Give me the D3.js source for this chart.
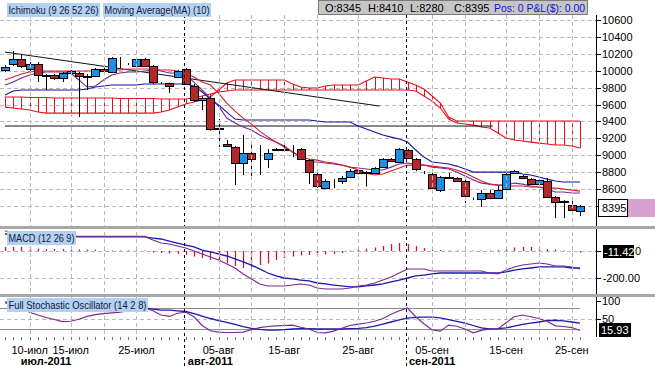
<!DOCTYPE html>
<html><head><meta charset="utf-8">
<script src="https://cdn.jsdelivr.net/npm/d3@7"></script>
<style>body{margin:0;background:#fff}svg{display:block;font-family:"Liberation Sans",Arial,sans-serif}</style>
</head><body><svg id="c" width="655" height="366"></svg>
<script>
// ---------------- DATA ----------------
const dates=["07-06","07-07","07-08","07-10","07-11","07-12","07-13","07-14","07-15","07-17","07-18","07-19","07-20","07-21","07-22","07-24","07-25","07-26","07-27","07-28","07-29","07-31","08-01","08-02","08-03","08-04","08-05","08-07","08-08","08-09","08-10","08-11","08-12","08-14","08-15","08-16","08-17","08-18","08-19","08-21","08-22","08-23","08-24","08-25","08-26","08-28","08-29","08-30","08-31","09-01","09-02","09-04","09-05","09-06","09-07","09-08","09-09","09-11","09-12","09-13","09-14","09-15","09-16","09-18","09-19","09-20","09-21","09-22","09-23","09-25","09-26"];
const open=[10008,10079,10138,10020,10079,9949,9949,9914,9973,9973,9937,9937,10020,9985,10095,10079,10056,10138,10056,9860,9854,9925,10020,9819,9653,9677,9322,9133,9097,8908,9026,8960,8955,9073,9062,9070,9073,8943,8778,8612,8695,8695,8742,8825,8801,8789,8860,8955,8920,9062,8955,8795,8778,8588,8742,8730,8695,8488,8482,8553,8494,8600,8789,8754,8718,8659,8695,8505,8458,8411,8345];
const high=[10067,10233,10198,10103,10103,9961,9961,9985,10008,9985,9961,10032,10032,10162,10162,10091,10150,10150,10067,9866,9860,10008,10032,9843,9690,9701,9428,9180,9109,9239,9168,9121,9073,9085,9144,9121,9085,8955,8790,8718,8718,8754,8837,8837,8813,8860,8967,8967,9085,9073,8967,8813,8800,8754,8790,8742,8707,8500,8588,8588,8636,8813,8825,8766,8730,8718,8730,8517,8470,8494,8410];
const low=[9985,10056,10032,9996,9866,9772,9890,9866,9961,9452,9772,9925,9985,9973,10032,10067,10044,10044,9843,9843,9736,9914,9831,9630,9535,9290,9097,9097,8647,8766,8730,8766,8849,9050,9038,8979,8943,8659,8612,8600,8612,8660,8730,8775,8630,8778,8849,8920,8908,8955,8813,8778,8600,8565,8718,8683,8434,8470,8387,8482,8482,8565,8778,8718,8647,8647,8494,8257,8257,8316,8280];
const close=[10044,10138,10056,10079,9949,9940,9914,9973,9996,9937,9930,10020,9996,10150,10088,10075,10138,10056,9866,9854,9819,9996,9843,9653,9677,9310,9316,9109,8908,9026,8955,8955,9026,9062,9070,9080,8955,8801,8636,8695,8700,8730,8813,8789,8795,8849,8955,8931,9073,8967,8837,8789,8612,8742,8730,8695,8517,8482,8553,8494,8588,8778,8813,8730,8659,8707,8505,8446,8452,8352,8395];

const kijun=[9712,9760,9772,9772,9772,9772,9772,9772,9772,9772,9783,9807,9819,9831,9831,9831,9831,9843,9843,9843,9843,9843,9843,9819,9748,9665,9594,9511,9428,9417,9417,9417,9417,9417,9417,9417,9417,9417,9405,9393,9393,9393,9393,9346,9310,9275,9239,9215,9192,9156,9062,8979,8920,8908,8896,8872,8837,8801,8801,8801,8801,8801,8801,8778,8766,8742,8718,8695,8683,8683,8683];
const tenkan=[9831,9866,9914,9949,9973,9985,9985,9985,9973,9890,9807,9819,9890,9949,9973,9985,9985,9996,10008,9996,9973,9973,9949,9866,9772,9677,9582,9440,9381,9334,9298,9239,9192,9156,9097,9038,8979,8920,8920,8908,8896,8884,8860,8849,8837,8825,8825,8860,8896,8908,8896,8884,8860,8849,8837,8801,8754,8707,8671,8659,8647,8647,8671,8659,8636,8624,8600,8565,8565,8553,8553];
const ma10=[9890,9925,9961,9985,9996,9996,9996,9996,9996,9996,9996,9996,9996,10008,10008,10020,10020,10020,10020,10008,10008,9996,9973,9925,9866,9831,9736,9618,9523,9440,9369,9286,9215,9156,9109,9038,8979,8955,8943,8920,8908,8884,8860,8825,8789,8766,8778,8813,8849,8884,8884,8884,8872,8860,8849,8825,8789,8742,8695,8659,8647,8636,8636,8636,8624,8624,8612,8612,8600,8588,8576];
const spanA=[9689,9689,9689,9683,9683,9683,9677,9677,9677,9677,9677,9677,9677,9677,9671,9671,9671,9671,9671,9665,9665,9665,9665,9677,9701,9724,9748,9760,9772,9772,9772,9772,9772,9772,9772,9772,9772,9772,9772,9772,9772,9772,9772,9772,9772,9772,9772,9772,9772,9772,9760,9701,9641,9559,9428,9381,9369,9357,9334,9322,9263,9204,9180,9168,9156,9144,9133,9121,9121,9109,9085];
const spanB=[9570,9559,9547,9535,9511,9499,9499,9499,9499,9499,9499,9499,9499,9499,9499,9499,9499,9499,9499,9511,9535,9570,9606,9630,9653,9689,9772,9854,9890,9890,9890,9890,9890,9890,9890,9843,9807,9795,9795,9819,9831,9831,9831,9831,9878,9925,9914,9902,9902,9866,9831,9783,9701,9618,9452,9405,9405,9405,9405,9405,9405,9405,9405,9405,9405,9405,9405,9405,9405,9405,9405];

const macd=[148,141,133,126,122,118,115,113,111,108,108,108,108,108,108,108,108,108,81,59,52,37,22,0,-22,-44,-67,-96,-126,-170,-207,-244,-259,-259,-259,-252,-244,-252,-274,-281,-281,-281,-274,-259,-252,-237,-215,-192,-163,-133,-133,-133,-148,-148,-148,-148,-148,-148,-148,-163,-170,-141,-118,-104,-96,-89,-96,-111,-111,-118,-133];
const signal=[126,126,118,118,111,111,111,111,111,104,104,104,104,104,104,104,104,104,96,89,74,59,44,30,7,-7,-22,-37,-59,-81,-104,-133,-163,-185,-200,-207,-215,-222,-237,-244,-252,-259,-266,-266,-259,-252,-244,-229,-215,-200,-185,-178,-170,-163,-163,-163,-163,-163,-163,-163,-163,-155,-141,-133,-126,-118,-118,-118,-118,-126,-126];
const hist=[30,30,30,30,18,15,15,15,11,11,11,11,4,4,4,4,4,4,-11,-15,-18,-22,-30,-41,-52,-67,-81,-92,-111,-126,-118,-104,-92,-67,-52,-41,-33,-30,-30,-26,-22,-15,4,11,18,26,37,52,59,52,37,22,11,7,4,4,4,4,4,4,7,15,26,30,30,26,15,11,4,-4,-11.42];

const stochK=[95,88,78,68,60,53,47,41,42,48,56,61,64,66,68,72,77,80,72,60,56,65,68,55,30,15,11,10,10,11,18,24,27,29,30,31,25,20,10,9,14,22,30,34,37,42,50,62,72,80,55,35,17,14,31,28,20,9,16,20,20,38,55,60,55,50,42,29,27,24,15.93];
const stochD=[97,96,94,91,88,85,82,79,77,75,74,74,75,76,77,78,79,80,77,74,74,72,70,64,57,50,44,39,33,27,22,19,17,17,18,20,21,21,20,20,20,20,21,22,24,28,34,40,46,51,53,54,54,52,47,42,37,30,23,20,21,23,28,33,37,40,44,45,43,40,37];

const trendDesc=[[0,10221],[45.6,9582]];
const trendFlat=[[0,9346],[59.4,9346]];

const priceGrid=[8400,8600,8800,9000,9200,9400,9600,9800,10000,10200,10400,10600];
const priceLabels=[8600,8800,9000,9200,9400,9600,9800,10000,10200,10400,10600];
const macdTicks=[0,-200];
const macdLabelVals=[-200];
const macdLabels=["-200.00"];
const stochTicks=[100,50];
const tickDates=["07-10","07-15","07-25","08-05","08-15","08-25","09-05","09-15","09-25"];
const tickLabels=["10-июл","15-июл","25-июл","05-авг","15-авг","25-авг","05-сен","15-сен","25-сен"];
const gridDates=["07-10","07-15","07-20","07-25","08-05","08-10","08-15","08-19","08-25","09-05","09-09","09-15","09-20","09-25"];
const monthStarts=["08-01","09-01"];
const monthLabels=["июл-2011","авг-2011","сен-2011"];
const monthLabelDates=["07-12","08-04","09-05"];
const last={o:8345,h:8410,l:8280,c:8395};

// ---------------- DRAW ----------------
const svg=d3.select("#c");
const AX=596;
const x=d3.scaleLinear().domain([0,dates.length-1]).range([5,580]);
const xd=d=>x(dates.indexOf(d));
const yM=d3.scaleLinear().domain([8400,10600]).range([206,20]);
const yMa=d3.scaleLinear().domain([0,-200]).range([251,278]);
const yS=d3.scaleLinear().domain([0,100]).range([336,301]);
const px=v=>Math.round(v)+0.5;
const idx=d3.range(dates.length);

svg.append("rect").attr("width",655).attr("height",366).attr("fill","#fff");
const defs=svg.append("defs");
[["cm",15,211],["cmacd",229,65],["cst",297,40]].forEach(([id,y,h])=>{
  defs.append("clipPath").attr("id",id).append("rect").attr("x",0).attr("y",y).attr("width",AX).attr("height",h);
});

const dashGray="#b8b8b8";
const gMain=svg.append("g").attr("clip-path","url(#cm)");
gMain.selectAll(".hg").data(priceGrid).join("line")
  .attr("x1",0).attr("x2",AX).attr("y1",d=>px(yM(d))).attr("y2",d=>px(yM(d)))
  .attr("stroke",dashGray).attr("stroke-dasharray","4,3");
const gMacd=svg.append("g").attr("clip-path","url(#cmacd)");
gMacd.selectAll(".hg").data(macdTicks).join("line")
  .attr("x1",0).attr("x2",AX).attr("y1",d=>px(yMa(d))).attr("y2",d=>px(yMa(d)))
  .attr("stroke",dashGray).attr("stroke-dasharray","4,3");
const gSt=svg.append("g").attr("clip-path","url(#cst)");
gSt.append("line").attr("x1",0).attr("x2",AX).attr("y1",px(yS(50))).attr("y2",px(yS(50)))
  .attr("stroke",dashGray).attr("stroke-dasharray","4,3");
[80,20].forEach(v=>gSt.append("line").attr("x1",0).attr("x2",x(70)).attr("y1",px(yS(v))).attr("y2",px(yS(v))).attr("stroke","#8c8c8c"));

svg.append("g").selectAll("line").data(gridDates).join("line")
  .attr("x1",d=>px(xd(d))).attr("x2",d=>px(xd(d))).attr("y1",15).attr("y2",337)
  .attr("stroke",dashGray).attr("stroke-dasharray","4,3");

// cloud
const cloudRed="#e8101c";
gMain.append("g").selectAll("line").data(idx).join("line")
  .attr("x1",i=>px(x(i))).attr("x2",i=>px(x(i)))
  .attr("y1",i=>yM(spanA[i])).attr("y2",i=>yM(spanB[i]))
  .attr("stroke",cloudRed).attr("stroke-width",1);
const ln=arr=>d3.line().x(i=>x(i)).y(i=>yM(arr[i]))(idx);
gMain.append("path").attr("d",ln(spanA)).attr("fill","none").attr("stroke",cloudRed).attr("stroke-width",1.1);
gMain.append("path").attr("d",ln(spanB)).attr("fill","none").attr("stroke",cloudRed).attr("stroke-width",1.1);

[trendDesc,trendFlat].forEach(t=>{
  gMain.append("line").attr("x1",x(t[0][0])).attr("y1",yM(t[0][1])).attr("x2",x(t[1][0])).attr("y2",yM(t[1][1]))
    .attr("stroke","#111").attr("stroke-width",1);
});

gMain.append("path").attr("d",ln(kijun)).attr("fill","none").attr("stroke","#1414a8").attr("stroke-width",1.1);
gMain.append("path").attr("d",ln(tenkan)).attr("fill","none").attr("stroke","#7a2a8e").attr("stroke-width",1.1);
gMain.append("path").attr("d",ln(ma10)).attr("fill","none").attr("stroke","#d8202c").attr("stroke-width",1.1);

// candles
const gc=gMain.append("g");
idx.forEach(i=>{
  const cx=Math.round(x(i));
  gc.append("line").attr("x1",cx+0.5).attr("x2",cx+0.5).attr("y1",yM(high[i])).attr("y2",yM(low[i])).attr("stroke","#000");
  const top=Math.round(yM(Math.max(open[i],close[i]))), bot=Math.round(yM(Math.min(open[i],close[i])));
  gc.append("rect").attr("x",cx-4+0.5).attr("width",8).attr("y",top+0.5).attr("height",Math.max(bot-top,0))
    .attr("fill",close[i]>=open[i]?"#1f8fe5":"#b3262a").attr("stroke","#000").attr("stroke-width",1);
});

// MACD
gMacd.append("g").selectAll("line").data(idx).join("line")
  .attr("x1",i=>px(x(i))).attr("x2",i=>px(x(i))).attr("y1",yMa(0)).attr("y2",i=>yMa(hist[i]))
  .attr("stroke","#d0143c").attr("stroke-width",1.3);
const lnM=arr=>d3.line().x(i=>x(i)).y(i=>yMa(arr[i]))(idx);
gMacd.append("path").attr("d",lnM(signal)).attr("fill","none").attr("stroke","#1a1ab4").attr("stroke-width",1.3);
gMacd.append("path").attr("d",lnM(macd)).attr("fill","none").attr("stroke","#7a2a8e").attr("stroke-width",1.1);

// Stochastic
const lnS=arr=>d3.line().x(i=>x(i)).y(i=>yS(arr[i]))(idx);
gSt.append("path").attr("d",lnS(stochD)).attr("fill","none").attr("stroke","#1a1ab4").attr("stroke-width",1.3);
gSt.append("path").attr("d",lnS(stochK)).attr("fill","none").attr("stroke","#7a2a8e").attr("stroke-width",1.1);

// month separators
svg.append("g").selectAll("line").data(monthStarts).join("line")
  .attr("x1",d=>px(xd(d)-1.5)).attr("x2",d=>px(xd(d)-1.5)).attr("y1",15).attr("y2",366)
  .attr("stroke","#000").attr("stroke-dasharray","3,3");

[[226,3],[294,3]].forEach(([y,h])=>svg.append("rect").attr("x",0).attr("y",y).attr("width",655).attr("height",h).attr("fill","#a8a8a8"));

// right axes
const axisG=svg.append("g").attr("stroke","#000");
[[15,226],[229,294],[297,337]].forEach(([a,b])=>axisG.append("line").attr("x1",AX+0.5).attr("x2",AX+0.5).attr("y1",a).attr("y2",b));
priceGrid.forEach(v=>axisG.append("line").attr("x1",AX).attr("x2",AX+5).attr("y1",px(yM(v))).attr("y2",px(yM(v))));
macdTicks.forEach(v=>axisG.append("line").attr("x1",AX).attr("x2",AX+5).attr("y1",px(yMa(v))).attr("y2",px(yMa(v))));
stochTicks.forEach(v=>axisG.append("line").attr("x1",AX).attr("x2",AX+5).attr("y1",px(yS(v))).attr("y2",px(yS(v))));

const fs="11px";
svg.append("g").selectAll("text").data(priceLabels).join("text")
  .attr("x",602).attr("y",d=>yM(d)+4).attr("font-size",fs).attr("fill","#000").text(d=>d);
svg.append("g").selectAll("text").data(macdLabelVals).join("text")
  .attr("x",640).attr("text-anchor","end").attr("y",d=>yMa(d)+4).attr("font-size",fs).text((d,i)=>macdLabels[i]);
// visible tail of the zero label beside the value box
svg.append("text").attr("x",635).attr("y",yMa(0)+4).attr("font-size",fs).text("0");
svg.append("g").selectAll("text").data(stochTicks).join("text")
  .attr("x",602).attr("y",d=>yS(d)+4).attr("font-size",fs).text(d=>d);

// last value boxes
svg.append("rect").attr("x",598.5).attr("y",199.5).attr("width",29).attr("height",17).attr("fill","#fff").attr("stroke","#000");
svg.append("rect").attr("x",628).attr("y",199).attr("width",27).attr("height",18).attr("fill","#d8a2d4");
svg.append("text").attr("x",602).attr("y",212).attr("font-size",fs).text(last.c);
svg.append("rect").attr("x",603).attr("y",245).attr("width",31).attr("height",13).attr("fill","#000");
svg.append("text").attr("x",604).attr("y",256).attr("font-size",fs).attr("fill","#fff").text(hist[hist.length-1].toFixed(2));
svg.append("rect").attr("x",599).attr("y",323).attr("width",32).attr("height",14).attr("fill","#000");
svg.append("text").attr("x",601).attr("y",334).attr("font-size",fs).attr("fill","#fff").text(stochK[stochK.length-1].toFixed(2));

// x axis
svg.append("g").selectAll("line").data(idx).join("line")
  .attr("x1",i=>px(x(i))).attr("x2",i=>px(x(i))).attr("y1",337).attr("y2",340).attr("stroke","#777");
svg.append("g").selectAll("text").data(tickDates).join("text")
  .attr("x",d=>xd(d)).attr("y",354).attr("text-anchor","middle").attr("font-size",fs).text((d,i)=>tickLabels[i]);
svg.append("g").selectAll("text").data(monthLabelDates).join("text")
  .attr("x",d=>xd(d)).attr("y",365).attr("text-anchor","middle").attr("font-size",fs).attr("font-weight","bold").text((d,i)=>monthLabels[i]);

// panel labels
const lab=(x0,y0,w,t,tl)=>{
  svg.append("rect").attr("x",x0).attr("y",y0).attr("width",w).attr("height",14).attr("fill","#b3d1f1");
  svg.append("text").attr("x",x0+1.5).attr("y",y0+11).attr("font-size","11px").attr("fill","#16163a")
    .attr("textLength",tl).attr("lengthAdjust","spacingAndGlyphs").text(t);
};
lab(7,3,93,"Ichimoku (9 26 52 26)",90);
lab(103,3,108,"Moving Average(MA) (10)",105);
lab(7,231,69,"MACD (12 26 9)",66);
lab(7,298,141,"Full Stochastic Oscillator (14 2 8)",138);

// OHLC header
svg.append("rect").attr("x",318.5).attr("y",0.5).attr("width",269).attr("height",14).attr("fill","#c6c6c6").attr("stroke","#7a7a7a");
const hdr=[["O:"+last.o,325],["H:"+last.h,368],["L:"+last.l,410],["C:"+last.c,454]];
hdr.forEach(([t,xx])=>svg.append("text").attr("x",xx).attr("y",12).attr("font-size","11px").text(t));
svg.append("text").attr("x",494).attr("y",12).attr("font-size","11px").attr("fill","#1010d8")
  .attr("textLength",91).attr("lengthAdjust","spacingAndGlyphs").text("Pos: 0 P&L($): 0.00");
</script></body></html>
